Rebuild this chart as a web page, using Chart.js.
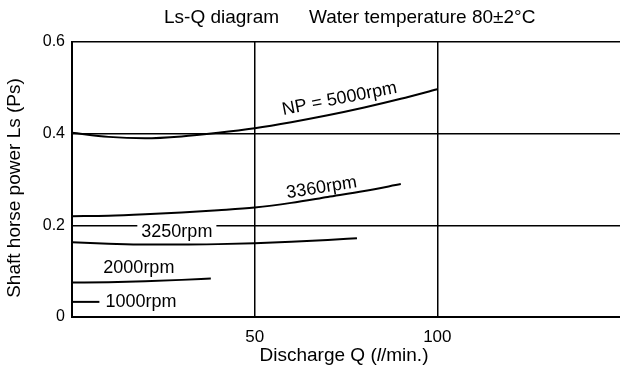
<!DOCTYPE html>
<html>
<head>
<meta charset="utf-8">
<script src="https://cdn.jsdelivr.net/npm/chart.js@4/dist/chart.umd.min.js"></script>
<style>
  html, body { margin: 0; padding: 0; background: #fff; }
  #wrap { width: 620px; height: 369px; }
</style>
</head>
<body>
<div id="wrap"><canvas id="lsq"></canvas></div>
<script>
  // Ls-Q curves, discharge Q (l/min) vs shaft horse power Ls (Ps)
  const q5000 = [0, 10, 20, 30, 40, 50, 60, 70, 80, 90, 100];
  const ls5000 = [0.402, 0.393, 0.390, 0.394, 0.402, 0.412, 0.425, 0.440, 0.457, 0.476, 0.497];

  const q3360 = [0, 10, 20, 30, 40, 50, 60, 70, 80, 90];
  const ls3360 = [0.220, 0.221, 0.224, 0.228, 0.233, 0.239, 0.249, 0.262, 0.275, 0.290];

  const q3250 = [0, 10, 20, 30, 40, 50, 60, 70, 78];
  const ls3250 = [0.163, 0.160, 0.158, 0.158, 0.159, 0.161, 0.164, 0.168, 0.172];

  const q2000 = [0, 10, 20, 30, 38];
  const ls2000 = [0.075, 0.076, 0.078, 0.081, 0.084];

  const q1000 = [0, 7.5];
  const ls1000 = [0.033, 0.033];

  const speedNames = ["NP = 5000rpm", "3360rpm", "3250rpm", "2000rpm", "1000rpm"];
  // where each speed name sits, in data units
  const nameQ = [73.2, 68.3, 28.7, 18.3, 18.9];
  const nameLs = [0.478, 0.284, 0.188, 0.109, 0.035];
  const nameTilt = [-11, -9, 0, 0, 0];

  const xTicks = [0, 50, 100, 150];
  const yTicks = [0, 0.2, 0.4, 0.6];

  const FONT = "'Liberation Sans', Arial, sans-serif";

  function pts(qs, ls) {
    return qs.map((q, i) => ({ x: q, y: ls[i] }));
  }

  function curve(qs, ls) {
    return {
      data: pts(qs, ls),
      borderColor: "#000",
      borderWidth: 2,
      fill: false,
      tension: 0.4,
      cubicInterpolationMode: "monotone",
      pointRadius: 0,
    };
  }

  // text that is not handled by the axes: title, axis names, curve names
  const textPlugin = {
    id: "lsqText",
    afterDatasetsDraw(chart) {
      const ctx = chart.ctx;
      const xs = chart.scales.x;
      const ys = chart.scales.y;
      ctx.save();
      ctx.fillStyle = "#000";
      ctx.textBaseline = "middle";

      // curve names
      ctx.font = "18px " + FONT;
      ctx.textAlign = "center";
      speedNames.forEach((name, i) => {
        const px = xs.getPixelForValue(nameQ[i]);
        const py = ys.getPixelForValue(nameLs[i]);
        ctx.save();
        ctx.translate(px, py);
        ctx.rotate((nameTilt[i] * Math.PI) / 180);
        if (nameTilt[i] === 0) {
          const w = ctx.measureText(name).width;
          ctx.fillStyle = "#fff";
          ctx.fillRect(-w / 2 - 4, -8, w + 8, 16);
          ctx.fillStyle = "#000";
        }
        ctx.fillText(name, 0, 1);
        ctx.restore();
      });

      // title
      ctx.font = "19px " + FONT;
      ctx.textAlign = "left";
      ctx.fillText("Ls-Q diagram", 164, 18);
      ctx.fillText("Water temperature 80\u00b12\u00b0C", 309, 18);

      // x axis name, with an italic l
      const parts = [
        ["Discharge Q (", "19px " + FONT],
        ["l", "italic 19px " + FONT],
        ["/min.)", "19px " + FONT],
      ];
      let total = 0;
      parts.forEach((p) => {
        ctx.font = p[1];
        total += ctx.measureText(p[0]).width;
      });
      let cx = 344 - total / 2;
      parts.forEach((p) => {
        ctx.font = p[1];
        ctx.fillText(p[0], cx, 356);
        cx += ctx.measureText(p[0]).width;
      });

      // y axis name
      ctx.font = "19px " + FONT;
      ctx.textAlign = "center";
      ctx.save();
      ctx.translate(15, 188);
      ctx.rotate(-Math.PI / 2);
      ctx.fillText("Shaft horse power Ls (Ps)", 0, 0);
      ctx.restore();

      ctx.restore();
    },
  };

  new Chart(document.getElementById("lsq").getContext("2d"), {
    type: "line",
    data: {
      datasets: [
        curve(q5000, ls5000),
        curve(q3360, ls3360),
        curve(q3250, ls3250),
        curve(q2000, ls2000),
        curve(q1000, ls1000),
      ],
    },
    options: {
      responsive: true,
      maintainAspectRatio: false,
      animation: false,
      layout: { padding: { top: 42, right: 0, bottom: 0, left: 0 } },
      plugins: {
        legend: { display: false },
        tooltip: { enabled: false },
      },
      scales: {
        x: {
          type: "linear",
          min: 0,
          max: 150,
          afterBuildTicks(scale) {
            scale.ticks = xTicks.map((v) => ({ value: v }));
          },
          afterFit(scale) {
            scale.height = 52;
            scale.paddingLeft = 0;
            scale.paddingRight = 0;
          },
          ticks: {
            padding: 10,
            color: "#000",
            font: { family: FONT, size: 17 },
            maxRotation: 0,
            callback: (v) => (v === 50 || v === 100 ? String(v) : ""),
          },
          grid: {
            color: (c) => (c.tick && c.tick.value === 150 ? "rgba(0,0,0,0)" : "#000"),
            lineWidth: 1.5,
            drawTicks: false,
          },
          border: { color: "#000", width: 2 },
        },
        y: {
          type: "linear",
          min: 0,
          max: 0.6,
          afterBuildTicks(scale) {
            scale.ticks = yTicks.map((v) => ({ value: v }));
          },
          afterFit(scale) {
            scale.width = 72;
          },
          ticks: {
            padding: 7,
            color: "#000",
            font: { family: FONT, size: 16 },
            callback: (v) => (v === 0 ? "0" : v.toFixed(1)),
          },
          grid: { color: "#000", lineWidth: 1.5, drawTicks: false },
          border: { color: "#000", width: 2 },
        },
      },
    },
    plugins: [textPlugin],
  });
</script>
</body>
</html>
